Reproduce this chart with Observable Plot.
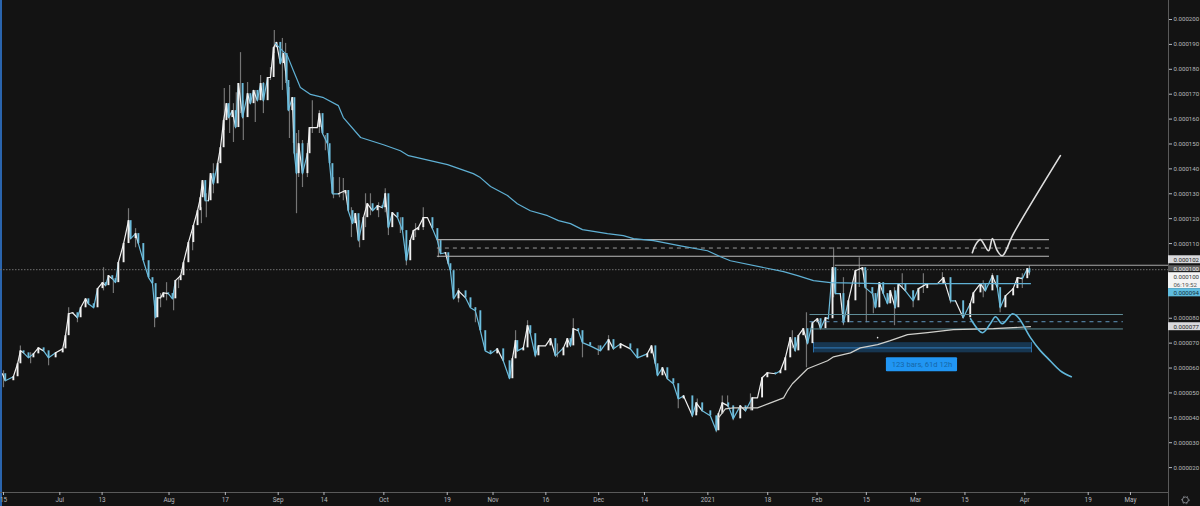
<!DOCTYPE html>
<html>
<head>
<meta charset="utf-8">
<script src="https://cdn.jsdelivr.net/npm/d3@7"></script>
<script src="https://cdn.jsdelivr.net/npm/@observablehq/plot@0.6"></script>
<style>
html,body{margin:0;padding:0;background:#131313;overflow:hidden}
svg{display:block}
</style>
</head>
<body>
<div id="chart"></div>
<script>
// Prices are in millionths (100 = 0.000100); times are in days after 15 Jun 2020.
const barDays = [-0.3,0.5,2.8,4,4.8,5.7,7.1,8.5,9.9,11.4,12.8,14.8,16.8,17.6,18.5,19.6,21,21.9,23.3,24.1,25.6,26.7,28.1,29,29.8,30.9,31.8,32.6,34.1,35.5,36.1,37.5,38.3,39.7,41.2,42.3,43.2,43.7,44.6,45.4,46.8,48,48.8,50.3,51.1,52.5,53.9,55.1,55.9,56.5,57.3,58.2,58.8,59.6,60.8,61.6,62.5,63.3,63.9,65,65.9,66.7,67.9,69.3,70.1,71,72.1,73,73.8,75,75.8,76.7,77.5,78.6,79.5,80.4,80.9,82,82.6,83.2,83.8,84.9,86.3,86.9,88,89.1,89.7,90.6,92,92.6,93.4,95.1,97.1,97.9,99.1,99.9,100.8,102.2,103.3,104.8,106.2,107.6,108.4,109.3,110.4,111.9,113.3,114.4,115.5,116.4,117.8,119.2,120.4,121.8,123.2,124.1,125.5,126.3,126.9,127.8,129.2,131.2,132.6,134,135.4,136.8,138.3,140.2,141.9,143.7,144.5,145.4,145.9,147.6,148.8,149.6,151,151.9,153.9,155.3,156.7,159,160.1,161,161.8,163.2,164.4,166.6,169.5,171.8,173.2,175.2,178,180,182.8,184,185.1,185.7,187.1,188.5,190.2,191.6,193.1,195.6,196.7,198.4,200.7,202.4,203,204.1,205.8,207.2,209.2,210.7,212.6,214.1,215.4,216.9,219.2,220.6,222,223.4,224.8,225.7,227.1,228.3,229.7,231.1,232,233.4,234.2,235.4,236.2,237.6,238.5,239.9,241.9,243.9,244.7,246.7,247.6,248.7,249.8,251,251.8,253.2,254.1,256.1,258.3,259.8,262.3,265.2,266.9,268.9,270.3,272.5,274.5,275.4,277.4,278.8,280.8,282.2,283,284.5,286.7,287.9,289.3,290.7,291.3];
const barCloses = [57.7,54.9,56.5,61.7,66.9,66.1,64.1,65.7,68.1,66.9,64.1,66.1,67.7,73,81.8,82.2,80.2,84.2,87.8,85.8,84.2,91.9,94.3,93.1,97.1,95.9,94.3,102.3,110,119.2,112,114,110,103.1,96.3,93.9,80.2,88.2,88.2,90.2,89.9,87.8,95.1,97.1,102.3,110.4,117.2,123.2,128.4,135.3,127.2,127.2,138.1,134,142.1,148.5,159.4,166.2,160.6,163.4,156.6,174.3,160.6,170.2,166.2,171.5,167.4,174.3,167.4,176.7,176.7,188.7,190.8,182.3,186.3,175.5,163.4,168.6,146.1,138.1,150.1,138.1,146.1,156.6,156.6,156.6,162.2,154.2,150.1,142.1,130,130,131.3,123.2,118,122,111.2,120.4,126,123.2,125.2,124.4,130,116.4,122.4,120.4,115.2,103.1,111.2,115.2,116.4,120.4,120.4,116,111.2,105.9,106.3,101.9,99.1,87.8,91,88.2,84.2,83,75,66.9,65.7,67.7,62.9,55.7,63.7,71,66.9,68.1,77,73.8,64.9,68.9,68.9,71.8,64.9,68.1,71.8,68.9,75.8,75,70.2,68.9,66.9,71.4,67.7,69.7,67.7,64.1,65.7,68.9,61.7,56.9,60.1,55.7,53.7,47.6,48.8,40.8,46,42.8,40.8,34.8,41.6,46,44.8,39.6,44.8,42.8,48,48,56.1,58.1,57.7,58.9,64.1,72.2,66.9,73,75.8,69.8,78.2,79.8,75.8,80.2,79.8,100.3,89.9,89.9,78.2,87,99.1,100.3,92.3,89.9,84.2,94.3,89.9,85.8,91,84.2,93.9,91,87,91.9,93.9,93.9,96.3,87,87,80.2,85.8,90.2,93.9,91,97.1,92.3,84.2,89,91.9,96.3,95.9,99.9,98.3];

const wickDays = [0,4.8,7.7,12.8,18.5,21,28.4,31.2,35.5,37.5,42.9,44.6,46.3,48.3,49.7,53.7,56.2,57.6,59.6,62.7,64.2,65.3,66.1,67.3,68.1,69.3,71.5,73,73.8,75.8,76.9,79.2,80.1,81.2,82.3,83.2,83.8,84.9,86.3,87.7,89.7,91.4,93.7,95.4,96.5,98.8,101.1,102.8,104.2,106.5,108.4,109.3,112.7,114.4,117,119.2,123.5,129.2,134,145.4,148.8,151,157.3,161.8,164.4,168.9,171.8,191.6,195.6,197,202.4,204.1,205.6,207.2,212.1,224,228,235.7,238.5,243,245,247,253,255.2,258.3,261.2,266.6,268.9,272.5,278.2,280.8,283,289.3,291.3];
const wickHighs = [58.9,68.9,66.1,65.7,84.2,81.8,100.3,95.9,124,116,87,89.9,94.3,91,96.3,114.4,124.4,130,142.1,172.3,173.5,166.2,170.6,186.7,167.4,174.7,171.5,177.5,174.7,180.7,195.6,192.4,190.4,172.7,166.2,154.2,155.4,151.4,150.2,167.4,163.4,153.4,136.5,136.5,136.1,124.4,119.2,130,130,126.4,132,122,120.4,108.3,118,124.4,111.2,91.9,84.2,75,79,69.7,69.7,79.8,72.2,69,73,49.6,44.8,47.6,38.8,48.8,48.8,42.8,49.6,75,82.2,108.3,96.3,104.3,99.1,89.9,92.3,97.9,91,97.9,98.3,91,83,95.1,97.9,88.2,97.9,101.1];
const wickLows = [52.1,62.1,61.7,60.9,75,78.2,91,89.9,112.4,108.3,76.2,84.2,87,83,91.9,107.1,118,120.4,130,155.4,154.2,150.6,156.6,162.2,151.4,163.4,158.6,167.4,162.2,175.5,186.3,171.5,174.3,152.2,150.2,122,136.5,132.5,136.5,154.2,154.2,147.3,128,128.4,127.2,112.4,108.3,116.4,121.2,120.4,122.4,113.2,114,101.1,112.4,115.2,104.3,86.2,78.2,64.1,71,64.1,64.1,71,64.1,65,68.1,43.6,40,42,34,41.6,44,38.8,42.8,67.7,60.1,88.2,77,92.3,78.2,81.8,77,92.3,84.2,89.9,93.9,85.8,79.8,88.2,92.3,82.2,91.9,97.1];

const blueMaDays = [77.2,80.6,82.3,84.3,87.2,90.9,95.1,96.5,101.4,107.9,112.7,115,126.1,133.4,135.4,138.3,143.1,145.9,149.6,154.5,157.6,161,164.4,171.5,176,178.9,184.6,192.2,199.9,203.6,206.4,221.5,225.5,230,234.8,249,291.6];
const blueMaValues = [190.4,185.5,179.5,172.7,169.9,168.6,165.4,160.6,152.6,149.7,147.3,145.3,141.7,138.1,136.5,132.9,129.3,126,123.2,121.2,119.2,118,115.6,114,113.2,112,111.2,109.1,107.1,104.7,103.1,98.7,97.1,95.1,94.3,93.9,93.9];
const whiteMaDays = [203,205,207.3,214.1,217.8,221.5,222.6,224,226.3,228.3,234,235.7,240.5,243.3,248.2,251.8,256.7,262.4,269.7,281.1,291.6];
const whiteMaValues = [40,43.6,44,44,46,48,50.8,53.7,56.9,59.7,62.9,64.5,66.1,68.1,69.4,71,73.4,74.2,75.4,75.8,76.6];

const bullPathDays = [275.1,276,277.4,279.7,280.8,282.2,283.6,286.8,300.1];
const bullPathValues = [106.3,109.5,111.6,107.1,112,107.1,105.1,114,145.3];
const bearPathDays = [274.6,278,280.2,281.7,283.6,286.5,288.2,291.6,294.4,296.4,300.1,303.2];
const bearPathValues = [79.8,74.2,77.8,80.6,77.8,81.8,80.2,72.2,67,64.1,58.9,56.5];

const upperZoneValues = [111.6, 108.2, 104.9];
const upperZoneDays = [123.2, 297];
const lowerZoneValues = [81.5, 78.6, 75.7];
const lowerZoneDays = [229, 318];
const resistanceValue = 101.3, resistanceStart = 236.2;
const lastPrice = 99.5;

const rangeDays = [230, 291.9];
const rangeValues = [66.1, 68.1, 70.2];
const rangeLabel = "123 bars, 61d 12h";

const axisTicks = [200,190,180,170,160,150,140,130,120,110,80,70,60,50,40,30,20];
const timeTickDays = [0,16,28,47,63,78,91,108,126,139,154,169,182,200,217,231,245,259,273,290,308,320];
const timeTickLabels = ["15","Jul","13","Aug","17","Sep","14","Oct","19","Nov","16","Dec","14","2021","18","Feb","15","Mar","15","Apr","19","May"];

const scaleDays = [-0.85, 330.8];
const scaleValues = [10, 207.64];
const marginDays = [330.8, 339.9];
const priceLabelDay = 332.2;
const gearDay = 335.6, gearValue = 7, pageBottomValue = 4.2;

const priceFlags = [
  {label:"0.000102", low:101.9, high:105.1, mid:103.5, fill:"#d9d9dc", color:"#222"},
  {label:"0.000100", low:98.7, high:101.1, mid:99.9, fill:"#5c5c5c", color:"#eee"},
  {label:"0.000100", low:91.9, high:98.3, mid:96.7, fill:"#f4f4f4", color:"#333"},
  {label:"06:19:52", low:null, high:null, mid:93.5, fill:null, color:"#555"},
  {label:"0.000094", low:88.6, high:91.9, mid:90.3, fill:"#5fbcdf", color:"#12303c"},
  {label:"0.000077", low:75, high:78.2, mid:76.6, fill:"#d9d9dc", color:"#222"}
];

const C = {bg:"#131313", up:"#f0f0f0", down:"#6cbcdc", wick:"#757575", axis:"#5a5a5a", text:"#b6b8bd"};
const base = Date.UTC(2020, 5, 15);
const T = d => new Date(base + d * 864e5);
const zip = (xs, ys) => xs.map((d, i) => ({t: T(d), v: ys[i]}));

const bars = barDays.map((d, i) => {
  const c = barCloses[i], o = i ? barCloses[i - 1] : c;
  return {t: T(d), o, c, col: c >= o ? C.up : C.down};
});
const wicks = wickDays.map((d, i) => ({t: T(d), h: wickHighs[i], l: wickLows[i]}));
const tickDates = timeTickDays.map(T);
const tickMap = new Map(tickDates.map((d, i) => [+d, timeTickLabels[i]]));
const seg = (days, v, o) => Plot.ruleY([v], {x1: T(days[0]), x2: T(days[1]), y: d => d, ...o});

const chart = Plot.plot({
  width: 1200, height: 506,
  marginLeft: 0, marginRight: 32, marginTop: 0, marginBottom: 14,
  style: {background: C.bg, fontFamily: "Roboto, sans-serif", color: C.text},
  x: {type: "utc", domain: scaleDays.map(T)},
  y: {domain: scaleValues},
  marks: [
    // frame
    Plot.ruleX([T(scaleDays[0])], {stroke: "#2a64ad", strokeWidth: 3, y1: pageBottomValue, y2: scaleValues[1]}),
    Plot.ruleX([T(scaleDays[1])], {stroke: C.axis, strokeWidth: 1, y1: pageBottomValue, y2: scaleValues[1]}),
    Plot.ruleY([scaleValues[0]], {stroke: C.axis, strokeWidth: 1}),
    Plot.axisY({anchor: "right", ticks: axisTicks, tickFormat: v => (v / 1e6).toFixed(6), tickSize: 3, tickPadding: 2, label: null, fontSize: 6.1, color: C.text}),
    Plot.axisX({anchor: "bottom", ticks: tickDates, tickFormat: d => tickMap.get(+d), tickSize: 3, tickPadding: 1.5, label: null, fontSize: 6.4, color: C.text}),

    // last price line
    Plot.ruleY([lastPrice], {stroke: "#707070", strokeWidth: 1, strokeDasharray: "1.5 1.5"}),

    // date range band sits under the candles and averages
    Plot.rectY([0], {x1: T(rangeDays[0]), x2: T(rangeDays[1]), y1: rangeValues[0], y2: rangeValues[2], fill: "#173650"}),
    Plot.ruleY([rangeValues[1]], {x1: T(rangeDays[0]), x2: T(rangeDays[1]), stroke: "#2c6fa8", strokeWidth: 1.1}),
    Plot.ruleX(rangeDays.map(T), {y1: rangeValues[0], y2: rangeValues[2], stroke: "#2c6fa8", strokeWidth: 1}),

    // candles
    Plot.ruleX(wicks, {x: "t", y1: "l", y2: "h", stroke: C.wick, strokeWidth: 1.2}),
    Plot.line(bars, {x: "t", y: "c", z: null, stroke: "col", strokeWidth: 1.2}),
    Plot.ruleX(bars, {x: "t", y1: "o", y2: "c", stroke: "col", strokeWidth: 1.9}),

    // zones and levels
    seg(upperZoneDays, upperZoneValues[0], {stroke: "#a8a8a8", strokeWidth: 1.2}),
    seg(upperZoneDays, upperZoneValues[1], {stroke: "#9a9a9a", strokeWidth: 1, strokeDasharray: "4 4"}),
    seg(upperZoneDays, upperZoneValues[2], {stroke: "#bdbdbd", strokeWidth: 1.2}),
    seg([resistanceStart, scaleDays[1]], resistanceValue, {stroke: "#a8a8a8", strokeWidth: 1.1}),
    seg(lowerZoneDays, lowerZoneValues[0], {stroke: "#5f8d98", strokeWidth: 1}),
    seg(lowerZoneDays, lowerZoneValues[1], {stroke: "#5f95bd", strokeWidth: 1, strokeDasharray: "4 4"}),
    seg(lowerZoneDays, lowerZoneValues[2], {stroke: "#5f8d98", strokeWidth: 1}),

    // moving averages
    Plot.line(zip(blueMaDays, blueMaValues), {x: "t", y: "v", stroke: "#5fb0d4", strokeWidth: 1.2}),
    Plot.line(zip(whiteMaDays, whiteMaValues), {x: "t", y: "v", stroke: "#d0d0cc", strokeWidth: 1.2}),

    // hand-drawn paths
    Plot.line(zip(bullPathDays, bullPathValues), {x: "t", y: "v", stroke: "#dedede", strokeWidth: 1.6, curve: "catmull-rom"}),
    Plot.line(zip(bearPathDays, bearPathValues), {x: "t", y: "v", stroke: "#62b8dc", strokeWidth: 1.6, curve: "catmull-rom"}),

    // range label
    Plot.rectY([0], {x1: T(250.7), x2: T(270.9), y1: 58.5, y2: 64.1, fill: "#2196f3", rx: 1}),
    Plot.text([rangeLabel], {x: T(260.8), y: 61.3, text: d => d, fill: "#1667a8", fontSize: 7.6}),
    Plot.dot([0], {x: T(248.2), y: 72.2, r: 0.8, fill: "#e8e8e8"}),

    // price flags on the axis
    Plot.rectY(priceFlags.filter(d => d.fill), {x1: T(marginDays[0]), x2: T(marginDays[1]), y1: "low", y2: "high", fill: "fill"}),
    Plot.text(priceFlags, {x: T(priceLabelDay), y: "mid", text: "label", fill: "color", fontSize: 6.1, textAnchor: "start"}),

    // settings glyph
    Plot.dot([0], {x: T(gearDay), y: gearValue, r: 3, stroke: "#8f9298", fill: "none", strokeWidth: 0.9}),
    Plot.dot([0], {x: T(gearDay), y: gearValue, r: 3.9, stroke: "#8f9298", fill: "none", strokeWidth: 0.8, strokeDasharray: "1.2 2.7"})
  ]
});
document.getElementById("chart").append(chart);
</script>
</body>
</html>
